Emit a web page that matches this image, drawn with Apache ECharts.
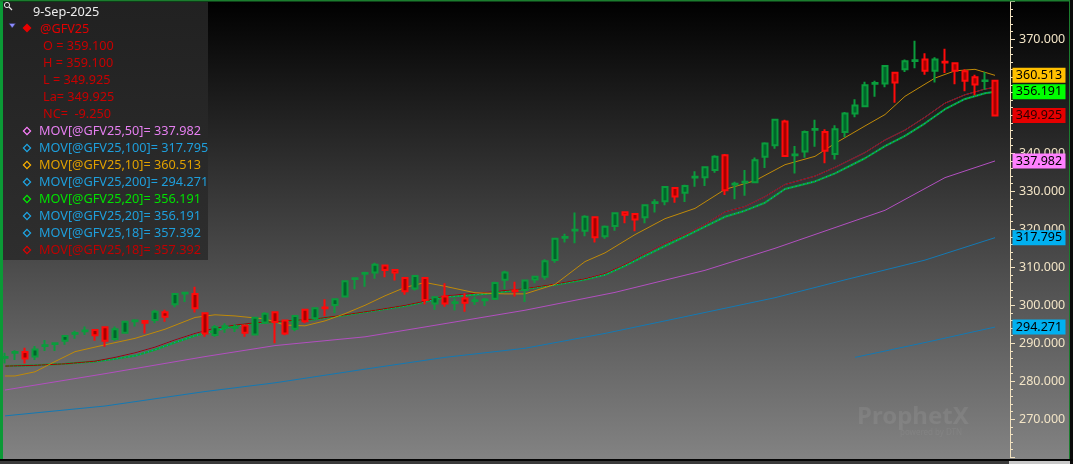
<!DOCTYPE html>
<html><head><meta charset="utf-8">
<script src="https://cdn.jsdelivr.net/npm/echarts@6/dist/echarts.min.js"></script>
<style>html,body{margin:0;padding:0;background:#000;overflow:hidden}#c{width:1073px;height:464px}</style>
</head><body><div id="c"></div><script>
const dateLabel = '9-Sep-2025';
const symbolName = '@GFV25';
// candle data (oldest -> newest)
const opens  = [286.2,287.5,287.7,286.5,289.3,289.8,290.7,292.5,293.2,293.5,294.2,291.1,292.8,295.8,295.9,296.1,298.2,300.3,303.1,303.0,297.9,292.2,294.3,294.1,294.7,292.3,295.5,298.2,296.0,293.8,298.8,296.6,299.4,300.1,302.3,306.9,308.3,308.6,310.5,309.3,307.2,304.4,307.2,300.5,302.3,300.6,301.8,301.1,301.3,301.7,306.7,303.9,304.0,306.8,307.5,311.9,317.8,319.7,319.6,323.2,318.2,320.9,324.5,324.0,323.2,326.9,327.4,330.9,329.6,333.6,333.7,335.6,339.5,331.8,332.3,332.4,339.1,342.1,348.4,339.5,340.5,346.2,345.6,339.8,345.6,350.5,352.4,358.3,358.4,361.2,362.1,364.3,364.7,361.7,364.1,363.7,361.6,360.0,359.0,359.1];
const closes = [286.4,287.7,286.0,288.4,289.5,290.0,291.9,292.7,293.4,292.1,290.7,293.7,295.7,296.0,295.4,298.3,297.0,303.0,303.3,299.2,292.6,294.2,294.5,294.3,292.8,296.7,297.8,295.6,292.6,297.2,295.8,299.2,299.2,301.6,306.3,307.1,308.5,310.7,309.3,308.6,303.7,307.7,301.4,302.1,300.5,300.8,300.7,301.3,301.5,305.9,308.6,303.7,306.5,307.5,311.6,317.5,318.0,319.9,323.3,317.9,320.7,324.2,323.8,322.6,326.3,327.1,331.1,328.6,331.4,333.8,336.3,339.1,330.3,332.0,332.5,338.2,342.6,348.8,339.3,339.7,345.6,346.4,340.7,346.3,350.5,352.6,357.9,358.5,363.0,358.6,364.2,364.5,361.7,364.7,363.9,361.7,359.1,358.1,359.175,349.925];
const lows   = [284.7,285.6,284.7,285.6,288.0,288.0,289.6,291.2,292.2,290.7,289.1,290.7,292.6,294.4,292.6,295.3,295.7,299.5,300.9,298.1,291.7,291.7,292.8,293.0,291.7,292.1,295.1,290.0,292.1,293.2,295.3,296.0,297.2,297.9,302.1,304.2,304.9,307.0,307.4,306.5,302.8,303.9,300.2,298.8,299.6,298.6,298.3,300.1,299.8,301.4,304.2,302.3,300.9,305.8,306.7,311.2,316.5,316.3,318.2,316.5,317.5,319.6,321.6,319.5,321.6,324.4,326.3,327.0,327.2,331.2,331.4,334.9,329.0,327.9,328.8,332.3,336.1,341.2,339.1,334.7,338.8,341.7,337.4,338.4,344.2,349.5,352.3,354.9,357.4,353.3,361.4,362.4,360.7,358.6,361.1,358.2,356.3,355.3,356.7,349.925];
const highs  = [287.5,288.2,288.8,289.3,290.9,290.1,292.2,293.3,294.4,293.5,294.3,294.4,295.9,296.3,295.9,298.8,298.8,303.2,303.5,304.9,297.9,294.8,295.3,295.0,294.7,297.0,298.2,298.2,296.0,297.4,298.8,299.5,301.6,301.8,306.5,307.4,308.8,311.2,310.5,309.5,307.2,307.9,307.2,302.3,305.8,301.8,303.2,302.3,301.9,306.2,309.1,306.2,306.7,307.7,312.1,317.7,318.8,324.4,323.7,323.2,321.0,324.5,324.5,324.0,326.6,327.9,331.2,330.9,331.7,335.3,336.5,339.5,339.8,332.5,335.6,338.9,342.9,348.9,348.8,341.9,346.0,348.8,346.3,347.4,350.9,354.2,358.8,359.1,363.2,361.4,364.7,369.6,366.3,365.3,367.5,363.7,362.1,360.7,361.4,359.1];
// moving averages: [candle index, value]
const ma10 = [[0,281.4],[1,281.4],[3,282.5],[5,285.2],[7,287.8],[10,289.6],[13,291.3],[16,293.7],[19,296.8],[21,297.5],[23,297.2],[26,296.4],[28,294.8],[30,294.6],[32,295.9],[34,297.8],[36,300.0],[38,302.5],[40,304.7],[42,306.0],[44,305.0],[47,303.3],[50,303.0],[52,303.0],[55,305.5],[58,311.5],[60,313.8],[63,318.6],[66,322.8],[69,325.5],[72,330.5],[75,332.8],[78,337.0],[81,339.2],[83,342.6],[86,347.2],[88,350.2],[90,355.0],[93,359.8],[95,361.7],[97,362.1],[99,360.513]];
const ma18 = [[0,284.0],[3,284.2],[6,284.6],[9,285.3],[11,286.3],[13,287.5],[15,289.0],[17,290.9],[19,292.6],[21,294.0],[23,294.8],[25,295.4],[27,295.7],[31,296.4],[34,297.5],[37,298.7],[40,300.0],[42,301.1],[44,302.5],[48,303.4],[52,304.4],[55,305.6],[58,307.0],[60,308.4],[62,310.8],[64,313.6],[66,316.3],[68,318.6],[70,321.3],[72,324.6],[74,326.0],[76,328.6],[78,331.8],[81,334.0],[83,336.3],[86,340.2],[88,343.5],[90,346.1],[92,349.5],[94,353.2],[96,355.4],[98,356.9],[99,357.392]];
const ma20 = [[0,284.0],[3,284.2],[6,284.6],[9,285.2],[11,285.9],[13,286.7],[15,288.3],[17,290.2],[19,292.0],[21,293.3],[23,294.6],[25,295.3],[27,295.6],[31,296.3],[34,297.4],[37,298.6],[40,299.8],[42,300.9],[44,302.2],[48,303.0],[52,304.3],[55,305.4],[58,306.8],[60,308.0],[62,310.4],[64,313.0],[66,315.6],[68,318.1],[70,320.7],[72,323.3],[74,324.9],[76,327.0],[78,330.6],[81,332.6],[83,334.7],[86,338.7],[88,341.9],[90,344.6],[92,347.9],[94,351.6],[96,354.3],[98,355.8],[99,356.191]];
const ma50 = [[0,277.7],[10,282.0],[20,286.5],[27,289.4],[36,291.7],[42,294.3],[52,298.7],[61,303.4],[70,309.2],[77,315.0],[88,325.0],[94,333.6],[99,337.982]];
const ma100 = [[0,270.9],[10,273.5],[20,277.3],[27,279.6],[36,283.2],[44,286.3],[52,288.7],[60,292.6],[68,297.0],[77,302.0],[84,306.7],[88,309.3],[92,311.9],[99,317.795]];
const ma200 = [[85,286.3],[92,290.2],[99,294.271]];
const yMin = 260, yMax = 380, yStep = 10;

const categories = opens.map((_, i) => String(i + 1)).concat(['']);
const candles = opens.map((o, i) => [o, closes[i], lows[i], highs[i]]);
const last = arr => arr[arr.length - 1][1];
const n = opens.length;
const FONT = 'Noto Sans';
const LFONT = '12.7px "' + FONT + '"';

function tag(value, bg, fg) {
  return {
    symbol: 'rect', symbolSize: [53, 15], symbolOffset: [44, 0], silent: true, animation: false,
    data: [{ coord: [n - 1, value], value: value, itemStyle: { color: bg },
      label: { show: true, position: 'inside', formatter: value.toFixed(3), color: fg, fontSize: 12.5, fontFamily: FONT } }]
  };
}
function lineSeries(name, data, color, width, z, extra) {
  return Object.assign({ type: 'line', name, data, showSymbol: false, symbol: 'none', animation: false,
    lineStyle: { color, width }, z: z, silent: true }, extra || {});
}

const legendRows = [
  ['MOV[' + symbolName + ',50]= ' + last(ma50).toFixed(3), '#e57ff0', '#ff80ff'],
  ['MOV[' + symbolName + ',100]= ' + last(ma100).toFixed(3), '#1e9fdc', '#1ea8e8'],
  ['MOV[' + symbolName + ',10]= ' + last(ma10).toFixed(3), '#e0a000', '#ffb400'],
  ['MOV[' + symbolName + ',200]= ' + last(ma200).toFixed(3), '#1e9fdc', '#1ea8e8'],
  ['MOV[' + symbolName + ',20]= ' + last(ma20).toFixed(3), '#00e000', '#00f000'],
  ['MOV[' + symbolName + ',20]= ' + last(ma20).toFixed(3), '#1e9fdc', '#1ea8e8'],
  ['MOV[' + symbolName + ',18]= ' + last(ma18).toFixed(3), '#1e9fdc', '#1ea8e8'],
  ['MOV[' + symbolName + ',18]= ' + last(ma18).toFixed(3), '#c00000', '#e00000']
];
const lc = closes[n - 1], pc = closes[n - 2];
const ohlcRows = ['O = ' + opens[n-1].toFixed(3), 'H = ' + highs[n-1].toFixed(3), 'L = ' + lows[n-1].toFixed(3),
  'La= ' + lc.toFixed(3), 'NC=  ' + (lc - pc).toFixed(3)];

const g = [];
g.push({ type: 'rect', z: -20, silent: true, shape: { x: 0, y: 0, width: 1073, height: 460 },
  style: { fill: { type: 'linear', x: 0, y: 0, x2: 0, y2: 1, colorStops: [{ offset: 0, color: '#000000' }, { offset: 1, color: '#838383' }] } } });
g.push({ type: 'rect', z: 50, silent: true, shape: { x: 3, y: 2, width: 205, height: 258 },
  style: { fill: { type: 'linear', x: 0, y: 0, x2: 0, y2: 1, colorStops: [{ offset: 0, color: '#212121' }, { offset: 1, color: '#2e2e2e' }] } } });
// magnifier icon
g.push({ type: 'circle', z: 51, silent: true, shape: { cx: 7, cy: 5, r: 2.6 }, style: { fill: null, stroke: '#e8e8e8', lineWidth: 1 } });
g.push({ type: 'line', z: 51, silent: true, shape: { x1: 9, y1: 7, x2: 12, y2: 10 }, style: { stroke: '#e8e8e8', lineWidth: 1.2 } });
g.push({ type: 'text', z: 51, silent: true, style: { text: dateLabel, x: 33, y: 12, fill: '#ececec', font: LFONT, textVerticalAlign: 'middle' } });
g.push({ type: 'polygon', z: 51, silent: true, shape: { points: [[9, 23.5], [15.5, 23.5], [12.2, 28]] }, style: { fill: '#8c8cff', stroke: '#30305a', lineWidth: 0.5 } });
g.push({ type: 'polygon', z: 51, silent: true, shape: { points: [[27, 23.5], [31.5, 28], [27, 32.5], [22.5, 28]] }, style: { fill: '#e80000' } });
g.push({ type: 'text', z: 51, silent: true, style: { text: symbolName, x: 40, y: 29, fill: '#e00000', font: LFONT, textVerticalAlign: 'middle' } });
ohlcRows.forEach((t, i) => g.push({ type: 'text', z: 51, silent: true,
  style: { text: t, x: 43, y: 46 + 17 * i, fill: '#c80000', font: LFONT, textVerticalAlign: 'middle' } }));
legendRows.forEach((r, i) => {
  const y = 131 + 17 * i;
  g.push({ type: 'polygon', z: 51, silent: true, shape: { points: [[27, y - 3.6], [30.6, y], [27, y + 3.6], [23.4, y]] }, style: { fill: null, stroke: r[2], lineWidth: 1.2 } });
  g.push({ type: 'text', z: 51, silent: true, style: { text: r[0], x: 39, y: y, fill: r[1], font: LFONT, textVerticalAlign: 'middle' } });
});
// watermark
g.push({ type: 'text', z: 1, silent: true, style: { text: 'ProphetX', x: 857, y: 417, fill: 'rgba(255,255,255,0.075)', font: 'bold 24px "' + FONT + '"', textVerticalAlign: 'middle' } });
g.push({ type: 'text', z: 1, silent: true, style: { text: 'powered by DTN', x: 900, y: 433, fill: 'rgba(255,255,255,0.06)', font: '8px "' + FONT + '"', textVerticalAlign: 'middle' } });
// frame
g.push({ type: 'rect', z: 100, silent: true, shape: { x: 0, y: 0, width: 3, height: 460 }, style: { fill: '#0b9a36' } });
g.push({ type: 'rect', z: 100, silent: true, shape: { x: 0, y: 0, width: 1070, height: 1.5 }, style: { fill: '#1b7d2e' } });
g.push({ type: 'rect', z: 100, silent: true, shape: { x: 1069, y: 0, width: 1, height: 460 }, style: { fill: '#1b7d2e' } });
g.push({ type: 'rect', z: 100, silent: true, shape: { x: 1070, y: 0, width: 3, height: 464 }, style: { fill: '#0a0a0a' } });
g.push({ type: 'rect', z: 100, silent: true, shape: { x: 0, y: 459, width: 1073, height: 2 }, style: { fill: '#050505' } });
g.push({ type: 'rect', z: 100, silent: true, shape: { x: 0, y: 461, width: 1009, height: 3 }, style: { fill: '#3a3a3a' } });
g.push({ type: 'rect', z: 100, silent: true, shape: { x: 1009, y: 461, width: 61, height: 3 }, style: { fill: '#c8c8c8' } });

const chart = echarts.init(document.getElementById('c'), null, { renderer: 'canvas' });
chart.setOption({
  animation: false,
  backgroundColor: 'transparent',
  graphic: g,
  grid: { left: 0, width: 1010, top: 1.3, height: 456, containLabel: false },
  xAxis: { type: 'category', data: categories, boundaryGap: true, axisLine: { show: false }, axisTick: { show: false }, axisLabel: { show: false }, splitLine: { show: false } },
  yAxis: {
    type: 'value', position: 'right', min: yMin, max: yMax, interval: yStep, scale: true,
    axisLine: { show: true, lineStyle: { color: '#f2e2c0', width: 1 } },
    axisTick: { show: true, length: 5, lineStyle: { color: '#f2e2c0' } },
    minorTick: { show: true, splitNumber: 5, length: 3, lineStyle: { color: '#f2e2c0' } },
    axisLabel: { color: '#f2e4c6', fontSize: 12.5, fontFamily: FONT, margin: 9,
      formatter: v => (v <= yMin || v >= yMax) ? '' : v.toFixed(3) },
    splitLine: { show: false }
  },
  series: [
    lineSeries('MA200', ma200, '#1479b3', 1, 3, { markPoint: tag(last(ma200), '#00b0f0', '#000') }),
    lineSeries('MA100', ma100, '#1479b3', 1, 3, { markPoint: tag(last(ma100), '#00b0f0', '#000') }),
    lineSeries('MA50', ma50, '#b24fc0', 1, 3, { markPoint: tag(last(ma50), '#ff80ff', '#000') }),
    lineSeries('MA18b', ma18, '#1a8ad0', 1, 3),
    lineSeries('MA20', ma20, '#08a832', 2, 3, { markPoint: tag(last(ma20), '#00ff00', '#000') }),
    lineSeries('MA20b', ma20, '#1a8ad0', 1.2, 4, { lineStyle: { color: '#1a8ad0', width: 1.2, type: [1, 3] } }),
    lineSeries('MA18', ma18, '#a80000', 1, 4),
    lineSeries('MA10', ma10, '#c08a08', 1, 4, { markPoint: tag(last(ma10), '#ffc000', '#000') }),
    {
      type: 'candlestick', name: symbolName, data: candles, barWidth: 6, z: 5, silent: true, animation: false,
      itemStyle: { color: '#00652a', color0: '#a50000', borderColor: '#0a9c3c', borderColor0: '#ff0a0a', borderWidth: 2 },
      markPoint: tag(lc, '#e60000', '#2a0000')
    }
  ]
});
</script></body></html>
